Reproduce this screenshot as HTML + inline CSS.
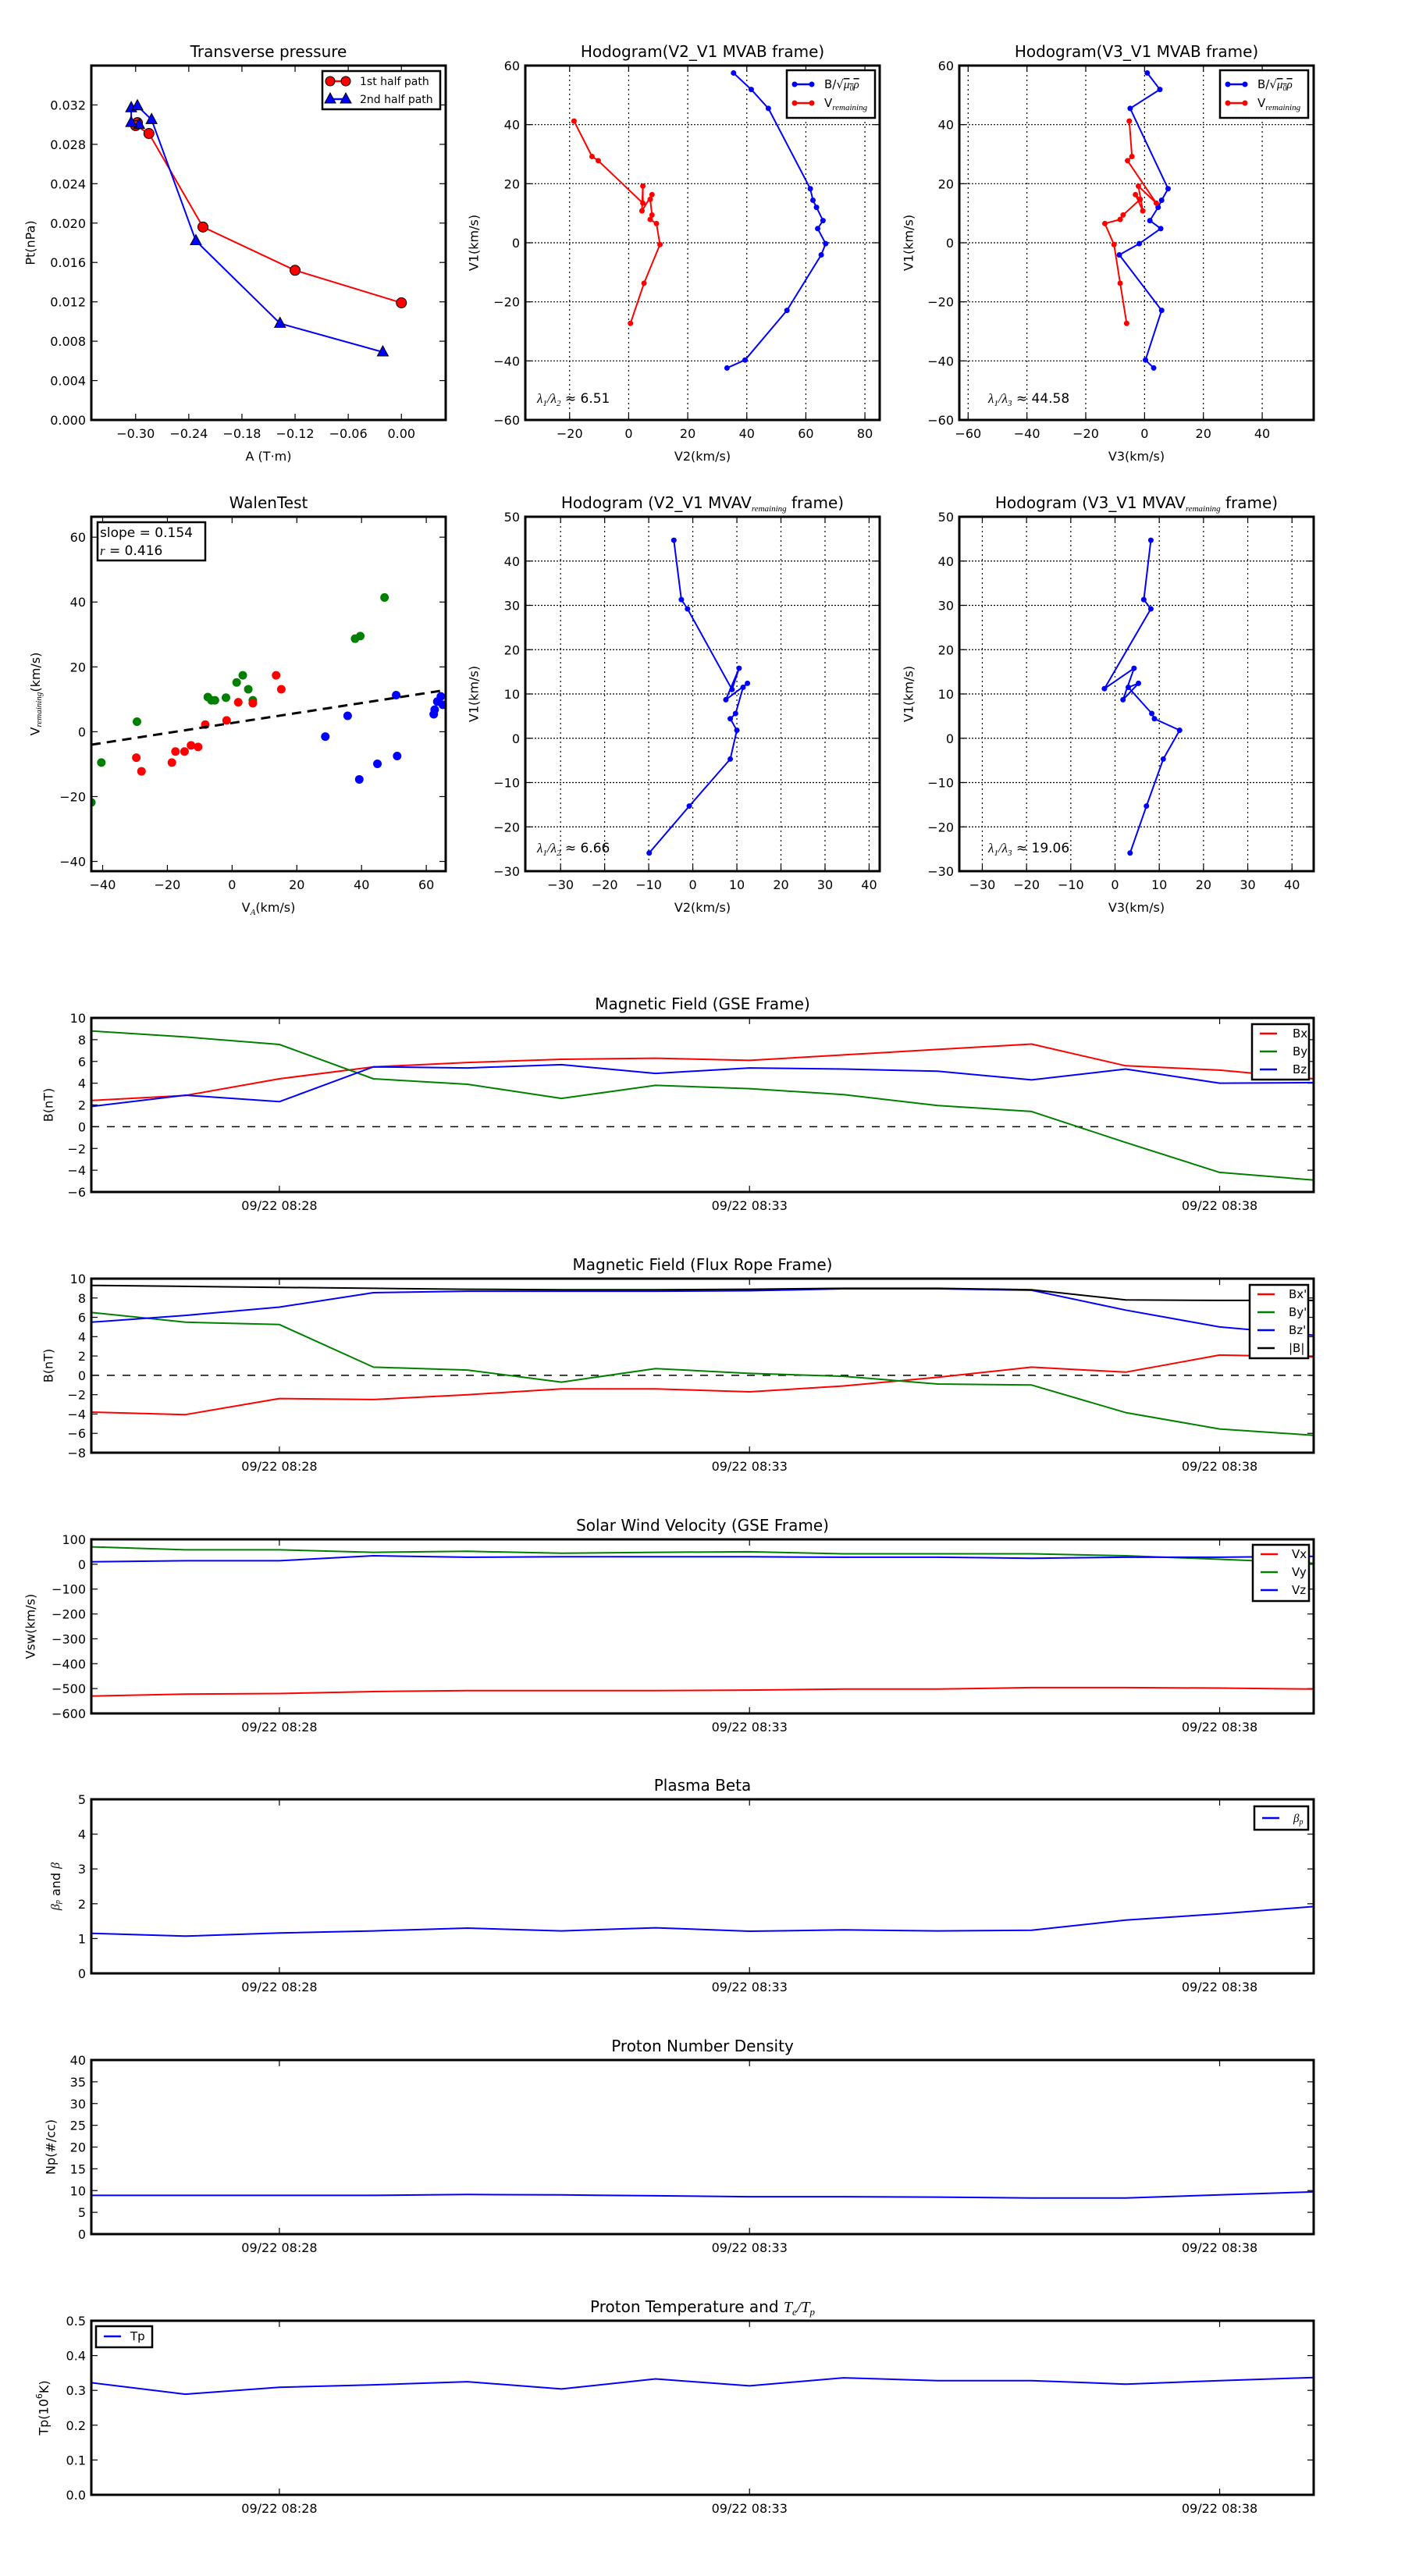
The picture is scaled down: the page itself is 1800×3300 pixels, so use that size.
<!DOCTYPE html>
<html><head><meta charset="utf-8"><title>Flux rope analysis</title>
<style>
html,body{margin:0;padding:0;background:#fff;}
svg{display:block;font-family:"DejaVu Sans","Liberation Sans",sans-serif;}
</style></head>
<body>
<svg id="fig" xmlns="http://www.w3.org/2000/svg" width="1800" height="3300" viewBox="0 0 1800 3300"></svg>
<script>
// ---------- Transverse pressure ----------
const tpA1 = [-0.298, -0.300, -0.285, -0.224, -0.120, 0.000];
const tpP1 = [0.0302, 0.0299, 0.0291, 0.0196, 0.0152, 0.0119];
const tpA2 = [-0.296, -0.305, -0.305, -0.298, -0.282, -0.232, -0.137, -0.021];
const tpP2 = [0.0300, 0.0302, 0.0317, 0.0319, 0.0305, 0.0182, 0.0098, 0.0069];
// ---------- Hodogram MVAB ----------
const hbV1 = [57.5, 51.9, 45.5, 18.3, 14.4, 12.0, 7.5, 4.8, -0.3, -4.1, -22.9, -39.7, -42.4];
const hbV2 = [35.5, 41.5, 47.3, 61.5, 62.4, 63.6, 65.8, 64.0, 66.7, 65.2, 53.6, 39.4, 33.3];
const hbV3 = [0.9, 5.2, -4.9, 8.0, 5.8, 4.6, 1.8, 5.5, -1.8, -8.6, 5.8, 0.3, 3.1];
const hrV1 = [41.2, 29.2, 27.8, 13.4, 19.2, 10.8, 16.3, 14.7, 9.4, 7.9, 6.5, -0.6, -13.7, -27.3];
const hrV2 = [-18.5, -12.4, -10.3, 4.8, 4.8, 4.5, 7.9, 7.3, 7.9, 7.3, 9.4, 10.6, 5.2, 0.6];
const hrV3 = [-5.2, -4.3, -5.8, 4.0, -2.1, -0.6, -3.1, -1.5, -7.3, -8.3, -13.5, -10.4, -8.3, -6.1];
// ---------- Walen test ----------
const wgX = [-43.5, -40.4, -29.4, -7.5, -6.4, -5.3, -1.9, 1.4, 3.3, 5.0, 6.4, 38.0, 39.6, 47.1];
const wgY = [-21.8, -9.5, 3.1, 10.7, 9.7, 9.7, 10.5, 15.2, 17.4, 13.1, 9.7, 28.7, 29.5, 41.4];
const wrX = [-29.6, -28.0, -18.6, -17.5, -14.7, -12.7, -10.5, -8.3, -1.7, 1.9, 6.4, 13.6, 15.2];
const wrY = [-8.0, -12.2, -9.5, -6.1, -6.1, -4.2, -4.7, 2.2, 3.5, 9.1, 8.8, 17.4, 13.1];
const wbX = [28.8, 35.7, 39.3, 44.9, 50.7, 51.0, 62.3, 62.6, 63.4, 64.5, 65.1];
const wbY = [-1.5, 4.9, -14.7, -9.9, 11.3, -7.5, 5.4, 6.8, 9.3, 10.9, 8.3];
const walenSlope = 0.154;
const walenIntercept = 2.7;
// ---------- Hodogram MVAV ----------
const hvV1 = [44.7, 31.3, 29.2, 11.0, 15.8, 8.7, 12.4, 11.5, 5.6, 4.4, 1.8, -4.7, -15.3, -25.9];
const hvV2 = [-4.3, -2.6, -1.2, 8.9, 10.5, 7.5, 12.4, 11.4, 9.7, 8.5, 10.0, 8.5, -0.8, -9.9];
const hvV1b = [44.7, 31.3, 29.2, 11.2, 15.8, 8.7, 12.4, 11.5, 5.6, 4.4, 1.8, -4.7, -15.3, -25.9];
const hvV3 = [8.1, 6.5, 8.1, -2.4, 4.3, 1.8, 5.3, 3.0, 8.3, 8.9, 14.6, 10.9, 7.1, 3.4];
// ---------- Time series ----------
const tMin = [0, 1, 2, 3, 4, 5, 6, 7, 8, 9, 10, 11, 12, 13]; // minutes after 08:26
const timeTicks = [2, 7, 12];
const timeTickLabels = ["09/22 08:28", "09/22 08:33", "09/22 08:38"];
const Bx = [2.41, 2.87, 4.4, 5.5, 5.9, 6.2, 6.3, 6.1, 6.6, 7.1, 7.6, 5.6, 5.2, 4.4];
const By = [8.8, 8.25, 7.56, 4.4, 3.9, 2.6, 3.8, 3.5, 2.95, 1.95, 1.4, -1.45, -4.2, -4.9];
const Bz = [1.86, 2.9, 2.3, 5.5, 5.4, 5.7, 4.9, 5.4, 5.3, 5.1, 4.3, 5.3, 4.0, 4.05];
const Bxp = [-3.8, -4.06, -2.4, -2.5, -2.0, -1.4, -1.4, -1.7, -1.1, -0.2, 0.85, 0.33, 2.1, 1.9];
const Byp = [6.5, 5.5, 5.25, 0.85, 0.55, -0.7, 0.7, 0.2, -0.1, -0.9, -1.0, -3.85, -5.55, -6.2];
const Bzp = [5.5, 6.2, 7.05, 8.55, 8.7, 8.7, 8.7, 8.75, 8.95, 8.95, 8.8, 6.75, 5.0, 4.15];
const Bt = [9.3, 9.2, 9.1, 9.0, 8.9, 8.85, 8.85, 8.9, 9.0, 9.0, 8.85, 7.8, 7.75, 7.75];
const Vx = [-530, -522, -520, -512, -508, -508, -508, -506, -502, -502, -496, -496, -498, -502];
const Vy = [70, 58, 58, 48, 52, 44, 48, 50, 42, 42, 42, 34, 20, 4];
const Vz = [10, 14, 14, 34, 28, 30, 30, 30, 28, 28, 24, 28, 28, 32];
const betaP = [1.15, 1.07, 1.16, 1.22, 1.30, 1.22, 1.31, 1.21, 1.25, 1.22, 1.24, 1.53, 1.71, 1.92];
const Np = [8.9, 8.9, 8.9, 8.9, 9.1, 9.0, 8.8, 8.6, 8.6, 8.5, 8.3, 8.3, 9.0, 9.7];
const Tp = [0.322, 0.289, 0.309, 0.316, 0.325, 0.304, 0.333, 0.313, 0.336, 0.328, 0.328, 0.318, 0.328, 0.337];

const NS = "http://www.w3.org/2000/svg";
const fig = document.getElementById('fig');
let clipId = 0;
function mk(parent, tag, attrs, name, text) {
  const e = document.createElementNS(NS, tag);
  for (const k in attrs) e.setAttribute(k, attrs[k]);
  
  
  if (text !== undefined) e.textContent = text;
  parent.appendChild(e);
  return e;
}
const fmtMinus = s => s.replace(/^-/, '\u2212');
function range(a, b, s) { const r = []; for (let v = a; v <= b + 1e-9; v += s) r.push(+v.toFixed(6)); return r; }

function axes(o) {
  const g = mk(fig, 'g', {}, o.name);
  const sx = v => o.x + (v - o.xmin) / (o.xmax - o.xmin) * o.w;
  const sy = v => o.y + o.h - (v - o.ymin) / (o.ymax - o.ymin) * o.h;
  const cid = 'clip' + (clipId++);
  const cp = mk(g, 'clipPath', { id: cid }, 'clip-region');
  mk(cp, 'rect', { x: o.x, y: o.y, width: o.w, height: o.h }, 'clip-rect');
  if (o.title) mk(g, 'text', { x: o.x + o.w / 2, y: o.y - 11, 'text-anchor': 'middle', 'font-size': 20 }, 'chart-title', o.title);
  if (o.grid) {
    o.xticks.forEach(v => {
      mk(g, 'line', { x1: sx(v), x2: sx(v), y1: o.y, y2: o.y + o.h, stroke: '#000', 'stroke-width': 1.2, 'stroke-dasharray': '2,4' }, 'x-grid-line');
    });
    o.yticks.forEach(v => {
      mk(g, 'line', { x1: o.x, x2: o.x + o.w, y1: sy(v), y2: sy(v), stroke: '#000', 'stroke-width': 1.2, 'stroke-dasharray': '2,2' }, 'y-grid-line');
    });
  }
  o.xticks.forEach((v, i) => {
    const X = sx(v);
    mk(g, 'line', { x1: X, x2: X, y1: o.y + o.h, y2: o.y + o.h - 8, stroke: '#000', 'stroke-width': 1.2 }, 'x-tick');
    mk(g, 'line', { x1: X, x2: X, y1: o.y, y2: o.y + 8, stroke: '#000', 'stroke-width': 1.2 }, 'x-tick');
    const lab = o.xlabels ? o.xlabels[i] : fmtMinus(o.xfmt(v));
    mk(g, 'text', { x: X, y: o.y + o.h + 23, 'text-anchor': 'middle', 'font-size': 16 }, 'x-tick-label', lab);
  });
  o.yticks.forEach(v => {
    const Y = sy(v);
    mk(g, 'line', { x1: o.x, x2: o.x + 8, y1: Y, y2: Y, stroke: '#000', 'stroke-width': 1.2 }, 'y-tick');
    mk(g, 'line', { x1: o.x + o.w, x2: o.x + o.w - 8, y1: Y, y2: Y, stroke: '#000', 'stroke-width': 1.2 }, 'y-tick');
    mk(g, 'text', { x: o.x - 7, y: Y + 6, 'text-anchor': 'end', 'font-size': 16 }, 'y-tick-label', fmtMinus(o.yfmt(v)));
  });
  if (o.xlabel) {
    const t = mk(g, 'text', { x: o.x + o.w / 2, y: o.y + o.h + 52, 'text-anchor': 'middle', 'font-size': 16 }, 'x-axis-title');
    t.innerHTML = o.xlabel;
  }
  if (o.ylabel) {
    const cy = o.y + o.h / 2;
    const t = mk(g, 'text', { x: o.ylx, y: cy, 'text-anchor': 'middle', 'font-size': 16, 'dominant-baseline': 'middle', transform: `rotate(-90 ${o.ylx} ${cy})` }, 'y-axis-title');
    t.innerHTML = o.ylabel;
  }
  const data = mk(g, 'g', { 'clip-path': `url(#${cid})` }, 'plot-area');
  return { g, data, sx, sy, o };
}
function frame(a) {
  const o = a.o;
  mk(a.g, 'rect', { x: o.x, y: o.y, width: o.w, height: o.h, fill: 'none', stroke: '#000', 'stroke-width': 3 }, 'axes-frame');
}
function line(a, xs, ys, color, name, w) {
  const pts = xs.map((v, i) => a.sx(v).toFixed(1) + ',' + a.sy(ys[i]).toFixed(1)).join(' ');
  mk(a.data, 'polyline', { points: pts, fill: 'none', stroke: color, 'stroke-width': w || 2, 'stroke-linejoin': 'round' }, name);
}
function dots(a, xs, ys, color, r, name, stroke) {
  xs.forEach((v, i) => {
    const c = mk(a.data, 'circle', { cx: a.sx(v), cy: a.sy(ys[i]), r: r, fill: color }, name);
    if (stroke) { c.setAttribute('stroke', '#000'); c.setAttribute('stroke-width', 1); }
  });
}
function tri(a, xs, ys, color, name) {
  xs.forEach((v, i) => {
    const X = a.sx(v), Y = a.sy(ys[i]);
    mk(a.data, 'polygon', { points: `${X},${Y - 8} ${X - 7},${Y + 5} ${X + 7},${Y + 5}`, fill: color, stroke: '#000', 'stroke-width': 1 }, name);
  });
}
function legend(parent, x, y, w, h, entries, fs) {
  const g = mk(parent, 'g', {}, 'legend');
  mk(g, 'rect', { x: x, y: y, width: w, height: h, fill: '#fff', stroke: '#000', 'stroke-width': 2.5 }, 'legend-box');
  entries.forEach((e, i) => {
    const cy = y + e.dy;
    const eg = mk(g, 'g', {}, 'legend-entry');
    mk(eg, 'line', { x1: x + 10, x2: x + 10 + e.len, y1: cy, y2: cy, stroke: e.color, 'stroke-width': 2.5 }, 'legend-line');
    if (e.marker === 'circle') {
      [x + 10, x + 10 + e.len].forEach(cx => mk(eg, 'circle', { cx: cx, cy: cy, r: e.r, fill: e.color, stroke: e.mstroke || 'none', 'stroke-width': 1 }, 'legend-marker'));
    }
    if (e.marker === 'tri') {
      [x + 10, x + 10 + e.len].forEach(cx => mk(eg, 'polygon', { points: `${cx},${cy - 8} ${cx - 7},${cy + 5} ${cx + 7},${cy + 5}`, fill: e.color, stroke: '#000', 'stroke-width': 1 }, 'legend-marker'));
    }
    const t = mk(eg, 'text', { x: x + e.tx, y: cy + 5, 'font-size': fs }, 'legend-label');
    t.innerHTML = e.label;
  });
}

// ===== Transverse pressure =====
const a1 = axes({ name: 'transverse-pressure-chart', x: 117, y: 84, w: 454, h: 454, xmin: -0.35, xmax: 0.05, ymin: 0, ymax: 0.036,
  xticks: [-0.30, -0.24, -0.18, -0.12, -0.06, 0.00], yticks: range(0, 0.032, 0.004), xfmt: v => v.toFixed(2), yfmt: v => v.toFixed(3),
  title: 'Transverse pressure', xlabel: 'A (T·m)', ylabel: 'Pt(nPa)', ylx: 40 });
line(a1, tpA1, tpP1, '#ff0000', 'first-half-path-line');
line(a1, tpA2, tpP2, '#0000ff', 'second-half-path-line');
dots(a1, tpA1, tpP1, '#ff0000', 6.5, 'first-half-marker', true);
tri(a1, tpA2, tpP2, '#0000ff', 'second-half-marker');
frame(a1);
legend(a1.g, 413, 91, 151, 49, [
  { dy: 13, len: 20, color: '#ff0000', marker: 'circle', r: 6, mstroke: '#000', tx: 48, label: '1st half path' },
  { dy: 36, len: 20, color: '#0000ff', marker: 'tri', tx: 48, label: '2nd half path' }], 14);

const sub = s => `<tspan font-size="11" dy="4" font-style="italic" font-family="Liberation Serif, serif">${s}</tspan>`;
const bLabel = 'B/√<tspan font-style="italic" font-family="Liberation Serif, serif" text-decoration="overline">μ<tspan font-size="10" dy="3">0</tspan><tspan dy="-3">ρ</tspan></tspan>';

// ===== Hodogram V2-V1 MVAB =====
const a2 = axes({ name: 'hodogram-v2-v1-mvab', x: 673, y: 84, w: 454, h: 454, xmin: -35, xmax: 85, ymin: -60, ymax: 60,
  xticks: range(-20, 80, 20), yticks: range(-60, 60, 20), xfmt: v => String(v), yfmt: v => String(v), grid: true,
  title: 'Hodogram(V2_V1 MVAB frame)', xlabel: 'V2(km/s)', ylabel: 'V1(km/s)', ylx: 608 });
line(a2, hbV2, hbV1, '#0000ff', 'b-hodogram-line');
dots(a2, hbV2, hbV1, '#0000ff', 3.5, 'b-hodogram-point');
line(a2, hrV2, hrV1, '#ff0000', 'v-hodogram-line');
dots(a2, hrV2, hrV1, '#ff0000', 3.5, 'v-hodogram-point');
frame(a2);
legend(a2.g, 1008, 90, 113, 61, [
  { dy: 18, len: 22, color: '#0000ff', marker: 'circle', r: 3.5, tx: 48, label: bLabel },
  { dy: 42, len: 22, color: '#ff0000', marker: 'circle', r: 3.5, tx: 48, label: 'V' + sub('remaining') }], 15);
mk(a2.g, 'text', { x: 688, y: 516, 'font-size': 17 }, 'eigenvalue-ratio').innerHTML = '<tspan font-style="italic" font-family="Liberation Serif, serif">λ<tspan font-size="11" dy="4">1</tspan><tspan dy="-4">/λ</tspan><tspan font-size="11" dy="4">2</tspan></tspan><tspan dy="-4"> ≈ 6.51</tspan>';

// ===== Hodogram V3-V1 MVAB =====
const a3 = axes({ name: 'hodogram-v3-v1-mvab', x: 1229, y: 84, w: 454, h: 454, xmin: -63, xmax: 57.5, ymin: -60, ymax: 60,
  xticks: range(-60, 40, 20), yticks: range(-60, 60, 20), xfmt: v => String(v), yfmt: v => String(v), grid: true,
  title: 'Hodogram(V3_V1 MVAB frame)', xlabel: 'V3(km/s)', ylabel: 'V1(km/s)', ylx: 1165 });
line(a3, hbV3, hbV1, '#0000ff', 'b-hodogram-line');
dots(a3, hbV3, hbV1, '#0000ff', 3.5, 'b-hodogram-point');
line(a3, hrV3, hrV1, '#ff0000', 'v-hodogram-line');
dots(a3, hrV3, hrV1, '#ff0000', 3.5, 'v-hodogram-point');
frame(a3);
legend(a3.g, 1563, 90, 113, 61, [
  { dy: 18, len: 22, color: '#0000ff', marker: 'circle', r: 3.5, tx: 48, label: bLabel },
  { dy: 42, len: 22, color: '#ff0000', marker: 'circle', r: 3.5, tx: 48, label: 'V' + sub('remaining') }], 15);
mk(a3.g, 'text', { x: 1266, y: 516, 'font-size': 17 }, 'eigenvalue-ratio').innerHTML = '<tspan font-style="italic" font-family="Liberation Serif, serif">λ<tspan font-size="11" dy="4">1</tspan><tspan dy="-4">/λ</tspan><tspan font-size="11" dy="4">3</tspan></tspan><tspan dy="-4"> ≈ 44.58</tspan>';

// ===== Walen test =====
const a4 = axes({ name: 'walen-test-chart', x: 117, y: 662, w: 454, h: 454, xmin: -43.5, xmax: 66, ymin: -43, ymax: 66.3,
  xticks: range(-40, 60, 20), yticks: range(-40, 60, 20), xfmt: v => String(v), yfmt: v => String(v),
  title: 'WalenTest', xlabel: 'V' + sub('A') + '<tspan dy="-4">(km/s)</tspan>', ylabel: 'V' + sub('remaining') + '<tspan dy="-4">(km/s)</tspan>', ylx: 46 });
dots(a4, wgX, wgY, '#008000', 5.5, 'walen-green-point');
dots(a4, wrX, wrY, '#ff0000', 5.5, 'walen-red-point');
dots(a4, wbX, wbY, '#0000ff', 5.5, 'walen-blue-point');
const fitX = [-43.5, 66];
line(a4, fitX, fitX.map(v => walenSlope * v + walenIntercept), '#000', 'regression-line', 3);
a4.data.lastChild.setAttribute('stroke-dasharray', '12,8');
frame(a4);
mk(a4.g, 'rect', { x: 125, y: 669, width: 138, height: 49, fill: '#fff', stroke: '#000', 'stroke-width': 2.5 }, 'stats-box');
mk(a4.g, 'text', { x: 128, y: 688, 'font-size': 17 }, 'slope-text', 'slope = 0.154');
mk(a4.g, 'text', { x: 128, y: 711, 'font-size': 17 }, 'r-text').innerHTML = '<tspan font-style="italic" font-family="Liberation Serif, serif">r</tspan> = 0.416';

// ===== Hodogram V2-V1 MVAV =====
const a5 = axes({ name: 'hodogram-v2-v1-mvav', x: 673, y: 662, w: 454, h: 454, xmin: -38, xmax: 42.4, ymin: -30, ymax: 50,
  xticks: range(-30, 40, 10), yticks: range(-30, 50, 10), xfmt: v => String(v), yfmt: v => String(v), grid: true,
  title: 'x', xlabel: 'V2(km/s)', ylabel: 'V1(km/s)', ylx: 608 });
a5.g.querySelector('text').innerHTML = 'Hodogram (V2_V1 MVAV' + sub('remaining') + '<tspan dy="-4"> frame)</tspan>';
line(a5, hvV2, hvV1, '#0000ff', 'hodogram-line');
dots(a5, hvV2, hvV1, '#0000ff', 3.5, 'hodogram-point');
frame(a5);
mk(a5.g, 'text', { x: 688, y: 1092, 'font-size': 17 }, 'eigenvalue-ratio').innerHTML = '<tspan font-style="italic" font-family="Liberation Serif, serif">λ<tspan font-size="11" dy="4">1</tspan><tspan dy="-4">/λ</tspan><tspan font-size="11" dy="4">2</tspan></tspan><tspan dy="-4"> ≈ 6.66</tspan>';

// ===== Hodogram V3-V1 MVAV =====
const a6 = axes({ name: 'hodogram-v3-v1-mvav', x: 1229, y: 662, w: 454, h: 454, xmin: -35.2, xmax: 44.9, ymin: -30, ymax: 50,
  xticks: range(-30, 40, 10), yticks: range(-30, 50, 10), xfmt: v => String(v), yfmt: v => String(v), grid: true,
  title: 'x', xlabel: 'V3(km/s)', ylabel: 'V1(km/s)', ylx: 1165 });
a6.g.querySelector('text').innerHTML = 'Hodogram (V3_V1 MVAV' + sub('remaining') + '<tspan dy="-4"> frame)</tspan>';
line(a6, hvV3, hvV1b, '#0000ff', 'hodogram-line');
dots(a6, hvV3, hvV1b, '#0000ff', 3.5, 'hodogram-point');
frame(a6);
mk(a6.g, 'text', { x: 1266, y: 1092, 'font-size': 17 }, 'eigenvalue-ratio').innerHTML = '<tspan font-style="italic" font-family="Liberation Serif, serif">λ<tspan font-size="11" dy="4">1</tspan><tspan dy="-4">/λ</tspan><tspan font-size="11" dy="4">3</tspan></tspan><tspan dy="-4"> ≈ 19.06</tspan>';

// ===== Time series =====
function ts(name, y, ymin, ymax, yticks, yfmt, title, ylabel, ylx) {
  return axes({ name: name, x: 117, y: y, w: 1566, h: 223, xmin: 0, xmax: 13, ymin: ymin, ymax: ymax,
    xticks: timeTicks, xlabels: timeTickLabels, yticks: yticks, xfmt: v => '', yfmt: yfmt, title: title, ylabel: ylabel, ylx: ylx });
}
function zeroLine(a) {
  mk(a.data, 'line', { x1: a.o.x, x2: a.o.x + a.o.w, y1: a.sy(0), y2: a.sy(0), stroke: '#000', 'stroke-width': 1.5, 'stroke-dasharray': '10,10' }, 'zero-line');
}
const intf = v => String(v);

const p1 = ts('magnetic-field-gse-chart', 1304, -6, 10, range(-6, 10, 2), intf, 'Magnetic Field (GSE Frame)', 'B(nT)', 63);
zeroLine(p1);
line(p1, tMin, Bx, '#ff0000', 'bx-line');
line(p1, tMin, By, '#008000', 'by-line');
line(p1, tMin, Bz, '#0000ff', 'bz-line');
frame(p1);
legend(p1.g, 1604, 1312, 73, 71, [
  { dy: 12, len: 22, color: '#ff0000', tx: 52, label: 'Bx' },
  { dy: 35, len: 22, color: '#008000', tx: 52, label: 'By' },
  { dy: 58, len: 22, color: '#0000ff', tx: 52, label: 'Bz' }], 15);

const p2 = ts('magnetic-field-flux-rope-chart', 1638, -8, 10, range(-8, 10, 2), intf, 'Magnetic Field (Flux Rope Frame)', 'B(nT)', 63);
zeroLine(p2);
line(p2, tMin, Bxp, '#ff0000', 'bx-prime-line');
line(p2, tMin, Byp, '#008000', 'by-prime-line');
line(p2, tMin, Bzp, '#0000ff', 'bz-prime-line');
line(p2, tMin, Bt, '#000000', 'b-total-line');
frame(p2);
legend(p2.g, 1601, 1646, 75, 94, [
  { dy: 12, len: 22, color: '#ff0000', tx: 50, label: "Bx'" },
  { dy: 35, len: 22, color: '#008000', tx: 50, label: "By'" },
  { dy: 58, len: 22, color: '#0000ff', tx: 50, label: "Bz'" },
  { dy: 81, len: 22, color: '#000000', tx: 50, label: '|B|' }], 15);

const p3 = ts('solar-wind-velocity-chart', 1972, -600, 100, range(-600, 100, 100), intf, 'Solar Wind Velocity (GSE Frame)', 'Vsw(km/s)', 40);
line(p3, tMin, Vx, '#ff0000', 'vx-line');
line(p3, tMin, Vy, '#008000', 'vy-line');
line(p3, tMin, Vz, '#0000ff', 'vz-line');
frame(p3);
legend(p3.g, 1605, 1979, 72, 72, [
  { dy: 12, len: 22, color: '#ff0000', tx: 50, label: 'Vx' },
  { dy: 35, len: 22, color: '#008000', tx: 50, label: 'Vy' },
  { dy: 58, len: 22, color: '#0000ff', tx: 50, label: 'Vz' }], 15);

const p4 = ts('plasma-beta-chart', 2305, 0, 5, range(0, 5, 1), intf, 'Plasma Beta',
  '<tspan font-style="italic" font-family="Liberation Serif, serif">β<tspan font-size="10" dy="3">p</tspan></tspan><tspan dy="-3"> and </tspan><tspan font-style="italic" font-family="Liberation Serif, serif">β</tspan>', 72);
line(p4, tMin, betaP, '#0000ff', 'beta-p-line');
frame(p4);
legend(p4.g, 1607, 2314, 69, 30, [
  { dy: 15, len: 22, color: '#0000ff', tx: 50, label: '<tspan font-style="italic" font-family="Liberation Serif, serif">β<tspan font-size="10" dy="3">p</tspan></tspan>' }], 15);

const p5 = ts('proton-density-chart', 2639, 0, 40, range(0, 40, 5), intf, 'Proton Number Density', 'Np(#/cc)', 66);
line(p5, tMin, Np, '#0000ff', 'np-line');
frame(p5);

const p6 = ts('proton-temperature-chart', 2973, 0, 0.5, range(0, 0.5, 0.1), v => v.toFixed(1), 'x', 'Tp(10<tspan font-size="11" dy="-6">6</tspan><tspan dy="6">K)</tspan>', 57);
p6.g.querySelector('text').innerHTML = 'Proton Temperature and <tspan font-style="italic" font-family="Liberation Serif, serif">T<tspan font-size="13" dy="4">e</tspan><tspan dy="-4">/T</tspan><tspan font-size="13" dy="4">p</tspan></tspan>';
line(p6, tMin, Tp, '#0000ff', 'tp-line');
frame(p6);
legend(p6.g, 123, 2980, 72, 27, [
  { dy: 13, len: 22, color: '#0000ff', tx: 44, label: 'Tp' }], 15);
</script>
</body></html>
